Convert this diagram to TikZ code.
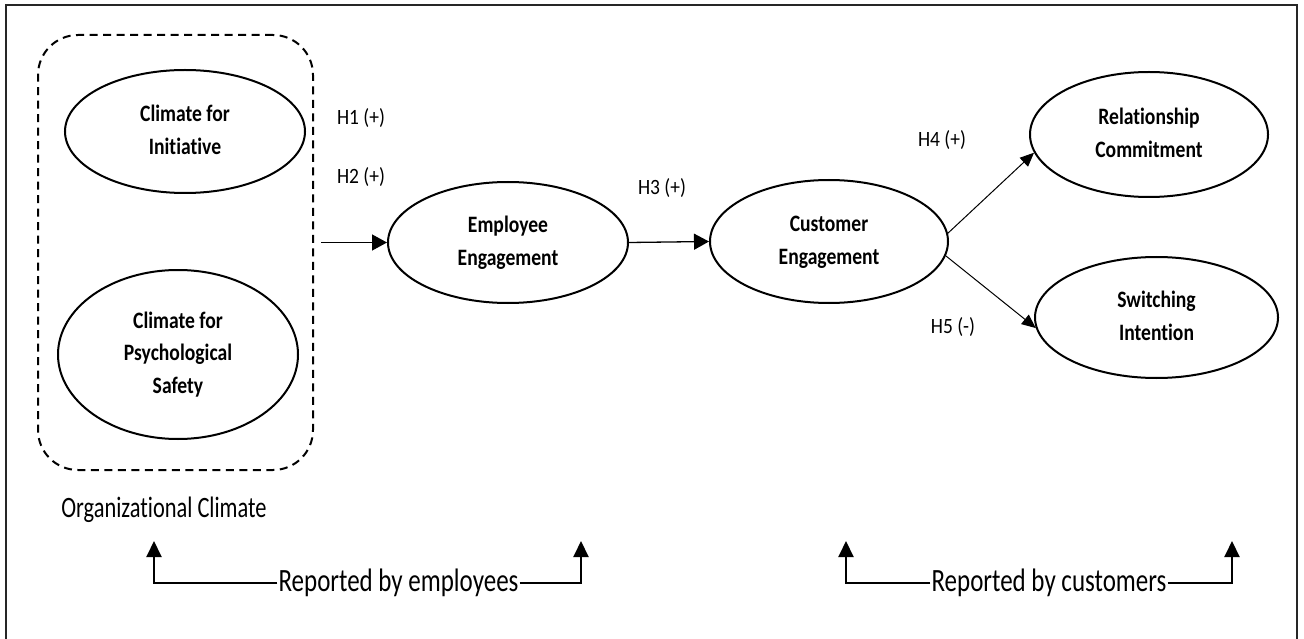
\documentclass[tikz,border=0pt]{standalone}
\usepackage{fontspec}
\setmainfont{Carlito}[Ligatures=NoCommon]
\usepackage{graphicx}
\usetikzlibrary{shapes.geometric,arrows.meta}
\newcommand{\tallt}[2][1.2]{\scalebox{1}[#1]{#2}}
\newcommand{\blk}[1]{\tallt{\begin{tabular}{@{}c@{}}#1\end{tabular}}}
\begin{document}
\begin{tikzpicture}[x=1pt,y=-1pt,
  ell/.style={ellipse, draw, line width=2pt, inner sep=0pt, font=\fontsize{19.6}{27}\selectfont\bfseries},
  hlab/.style={inner sep=0pt, font=\fontsize{19.5}{23}\selectfont},
  replab/.style={inner sep=1pt, font=\fontsize{25}{28}\selectfont},
  arr/.style={line width=1.3pt, -{Triangle[length=15pt,width=16pt]}},
  arrthin/.style={line width=1pt, -{Triangle[length=14pt,width=12pt]}},
  barr/.style={line width=2pt, -{Triangle[length=16pt,width=15pt]}},
  grp/.style={draw, dash pattern=on 8pt off 5.5pt, rounded corners=40pt, line width=2pt}
]
\useasboundingbox (0,0) rectangle (1304,639);
\draw[line width=1.5pt, black!85] (6,645) -- (6,5) -- (1297,5) -- (1297,645);

\node[grp, minimum width=275, minimum height=435] (oc) at (175.5,252.5) {};
\node[ell, minimum width=240, minimum height=123] (ci) at (185,131.5) {\blk{Climate for\\Initiative}};
\node[ell, minimum width=240, minimum height=169] (cps) at (178,354.5) {\blk{Climate for\\Psychological\\Safety}};
\node[ell, minimum width=240, minimum height=121] (ee) at (508,242.5) {\blk{Employee\\Engagement}};
\node[ell, minimum width=238, minimum height=123] (ce) at (829,241.5) {\blk{Customer\\Engagement}};
\node[ell, minimum width=238, minimum height=125] (rc) at (1149,134.5) {\blk{Relationship\\Commitment}};
\node[ell, minimum width=243, minimum height=121] (si) at (1156.5,317.5) {\blk{Switching\\Intention}};

\node[inner sep=0pt, font=\fontsize{22.4}{26}\selectfont] (oct) at (164,510) {\tallt[1.32]{Organizational Climate}};

\node[hlab] (h1) at (361,118) {\tallt[1.12]{H1 (+)}};
\node[hlab] (h2) at (361,177) {\tallt[1.12]{H2 (+)}};
\node[hlab] (h3) at (662,188) {\tallt[1.12]{H3 (+)}};
\node[hlab] (h4) at (942,140) {\tallt[1.12]{H4 (+)}};
\node[hlab] (h5) at (953,327) {\tallt[1.12]{H5 (-)}};

\draw[arr] ([xshift=7pt]oc.east |- ee.west) -- (ee.west);
\draw[arr] (ee.east) -- (ce.west);
\draw[arrthin] (ce.4) -- (rc.189);
\draw[arrthin] (ce.-7) -- (si.185);

\node[replab] (rbe) at (398.5,583) {\tallt[1.3]{Reported by employees}};
\node[replab] (rbc) at (1049,583) {\tallt[1.3]{Reported by customers}};
\coordinate (e1) at (154,541);
\coordinate (e2) at (581,541);
\coordinate (c1) at (846,541);
\coordinate (c2) at (1232,541);
\draw[barr] (rbe.west) -| (e1);
\draw[barr] (rbe.east) -| (e2);
\draw[barr] (rbc.west) -| (c1);
\draw[barr] (rbc.east) -| (c2);
\end{tikzpicture}
\end{document}
